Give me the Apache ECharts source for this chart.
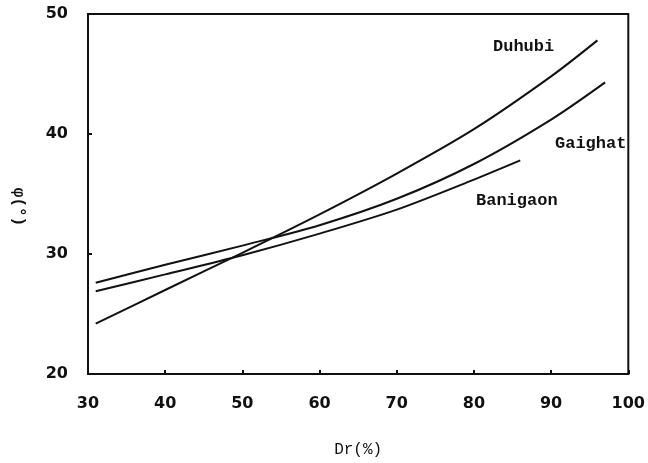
<!DOCTYPE html>
<html>
<head>
<meta charset="utf-8">
<script src="https://cdn.jsdelivr.net/npm/echarts@6/dist/echarts.min.js"></script>
<style>
  html, body { margin: 0; padding: 0; background: #fff; }
  #main { width: 648px; height: 463px; }
</style>
</head>
<body>
<div id="main"></div>
<script>
// 数据
var xTicks = [30, 40, 50, 60, 70, 80, 90, 100];
var yTicks = [20, 30, 40, 50];

var duhubiX = [31, 40, 50, 60, 70, 80, 90, 96];
var duhubiY = [24.2, 27.0, 30.1, 33.3, 36.7, 40.4, 44.8, 47.8];

var gaighatX = [31, 40, 50, 60, 70, 80, 90, 97];
var gaighatY = [27.6, 29.1, 30.7, 32.4, 34.6, 37.5, 41.2, 44.3];

var banigaonX = [31, 40, 50, 60, 70, 80, 86];
var banigaonY = [26.9, 28.3, 29.9, 31.7, 33.7, 36.2, 37.8];

function pairs(xs, ys) {
    return xs.map(function (x, i) { return [x, ys[i]]; });
}

var chart = echarts.init(document.getElementById('main'));

var monoFont = '"Liberation Mono", "DejaVu Sans Mono", monospace';

var option = {
    backgroundColor: '#fff',
    animation: false,
    grid: {
        left: 88,
        right: 16,
        top: 14,
        bottom: 89,
        show: true,
        borderColor: '#111',
        borderWidth: 2
    },
    xAxis: {
        type: 'value',
        min: xTicks[0],
        max: xTicks[xTicks.length - 1],
        interval: 10,
        name: 'Dr(%)',
        nameLocation: 'middle',
        nameGap: 68,
        nameTextStyle: { fontFamily: monoFont, fontSize: 16, color: '#111' },
        axisLine: { lineStyle: { color: '#111', width: 2 } },
        axisTick: { inside: true, length: 4, lineStyle: { color: '#111', width: 2 } },
        axisLabel: { margin: 22, fontFamily: '"DejaVu Sans"', fontWeight: 'bold', fontSize: 16, color: '#111' },
        splitLine: { show: false }
    },
    yAxis: {
        type: 'value',
        min: yTicks[0],
        max: yTicks[yTicks.length - 1],
        interval: 10,
        axisLine: { lineStyle: { color: '#111', width: 2 } },
        axisTick: { inside: true, length: 4, lineStyle: { color: '#111', width: 2 } },
        axisLabel: { margin: 20, fontFamily: '"DejaVu Sans"', fontWeight: 'bold', fontSize: 16, color: '#111' },
        splitLine: { show: false }
    },
    graphic: [
        {
            type: 'text', left: 493, top: 38,
            style: { text: 'Duhubi', font: 'bold 17px ' + monoFont, fill: '#111' }
        },
        {
            type: 'text', left: 555, top: 135,
            style: { text: 'Gaighat', font: 'bold 17px ' + monoFont, fill: '#111' }
        },
        {
            type: 'text', left: 476, top: 192,
            style: { text: 'Banigaon', font: 'bold 17px ' + monoFont, fill: '#111' }
        },
        {
            type: 'text', x: 18, y: 207, rotation: -Math.PI / 2,
            style: { text: 'φ(°)', font: 'bold 16px ' + monoFont, fill: '#111', align: 'center', verticalAlign: 'middle' }
        }
    ],
    series: [
        {
            name: 'Duhubi', type: 'line', smooth: 0.3, showSymbol: false,
            lineStyle: { color: '#111', width: 2 },
            data: pairs(duhubiX, duhubiY)
        },
        {
            name: 'Gaighat', type: 'line', smooth: 0.3, showSymbol: false,
            lineStyle: { color: '#111', width: 2 },
            data: pairs(gaighatX, gaighatY)
        },
        {
            name: 'Banigaon', type: 'line', smooth: 0.3, showSymbol: false,
            lineStyle: { color: '#111', width: 2 },
            data: pairs(banigaonX, banigaonY)
        }
    ]
};

chart.setOption(option);
</script>
</body>
</html>
